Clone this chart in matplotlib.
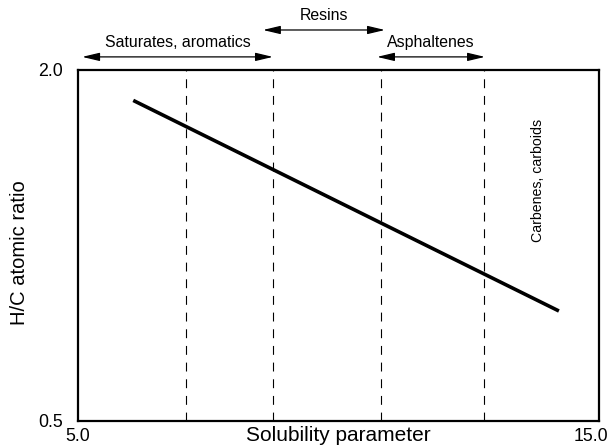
import matplotlib.pyplot as plt
from matplotlib.transforms import ScaledTranslation

plt.rcParams['font.family'] = ['Liberation Sans', 'DejaVu Sans']

# Trend line (solubility parameter vs H/C ratio)
sol_param = [6.06, 14.23]
hc_ratio = [1.87, 0.97]

# Fraction boundaries (dashed lines)
boundaries = [7.07, 8.74, 10.82, 12.79]

# Fraction ranges shown as arrows above the plot
fractions = ['Saturates, aromatics', 'Resins', 'Asphaltenes']
frac_start = [5.08, 8.55, 10.74]
frac_end = [8.74, 10.89, 12.81]
frac_level = [2.056, 2.171, 2.056]

fig = plt.figure(figsize=(6.12, 4.45), dpi=100)
ax = fig.add_axes([0.1275, 0.054, 0.8513, 0.7887])

ax.plot(sol_param, hc_ratio, color='black', linewidth=2.6, solid_capstyle='butt')
for b in boundaries:
    ax.axvline(b, color='black', linewidth=0.8, linestyle=(0, (8, 7)))

for name, x0, x1, lvl in zip(fractions, frac_start, frac_end, frac_level):
    ax.annotate('', xy=(x0, lvl), xytext=(x1, lvl), annotation_clip=False,
                arrowprops=dict(arrowstyle='<|-|>,head_length=1.05,head_width=0.25',
                                color='black', lw=0.9, shrinkA=0, shrinkB=0))
    ax.text((x0 + x1) / 2, lvl + 0.062, name, ha='center', va='center', fontsize=11.4)

ax.text(13.83, 1.53, 'Carbenes, carboids', rotation=90, ha='center', va='center', fontsize=10.2)

ax.set_xlim(5, 15)
ax.set_ylim(0.5, 2.0)
ax.set_xticks([5, 15])
ax.set_xticklabels(['5.0', '15.0'])
ax.set_yticks([0.5, 2.0])
ax.set_yticklabels(['0.5', '2.0'])
ax.tick_params(length=0, labelsize=12.8)
ax.tick_params(axis='x', pad=5)
ax.tick_params(axis='y', pad=11)
lbl = ax.get_xticklabels()[-1]
lbl.set_transform(lbl.get_transform() + ScaledTranslation(-0.08, 0, fig.dpi_scale_trans))
for s in ax.spines.values():
    s.set_linewidth(1.6)

ax.set_xlabel('Solubility parameter', fontsize=15)
ax.xaxis.set_label_coords(0.5, -0.014)
ax.set_ylabel('H/C atomic ratio', fontsize=14.5)
ax.yaxis.set_label_coords(-0.095, 0.479)

fig.savefig('out.png', dpi=100)
